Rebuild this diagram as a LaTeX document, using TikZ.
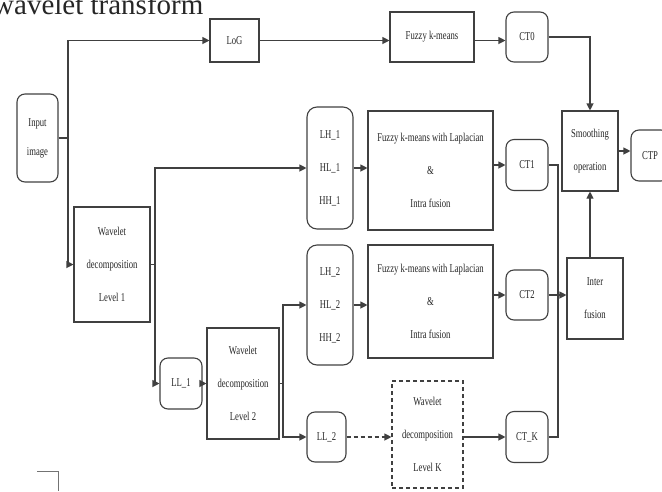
\documentclass[tikz,border=0pt]{standalone}
\usepackage{fontspec}
\setmainfont{Liberation Serif}[FakeStretch=0.72]
\newfontfamily\titlefont{Liberation Serif}
\usetikzlibrary{arrows.meta}
\newcommand{\lbl}{\fontsize{12}{33}\selectfont}
\newcommand{\lblb}{\fontsize{12}{29}\selectfont}
\begin{document}
\begin{tikzpicture}[x=1pt,y=-1pt,
  box/.style={draw=black!75, line width=1.1pt, inner sep=0pt, align=center, text=black!85, font=\lbl},
  rbox/.style={box, rounded corners=8pt},
  lnk/.style={draw=black!75, line width=1.1pt},
  arr/.style={lnk, -{Triangle[length=7pt,width=7pt]}},
  dsh/.style={dash pattern=on 4pt off 3pt}]
\useasboundingbox (0,0) rectangle (662,491);
% title (cut by the page top)
\node[anchor=base west, inner sep=0pt, text=black!85, font=\titlefont\fontsize{29}{30}\selectfont] (title) at (-7,14) {wavelet transform};
% nodes
\node[rbox, font=\lblb, minimum width=41pt, minimum height=88pt] (inp) at (37.5,138) {Input\\image};
\node[box, minimum width=49pt, minimum height=43pt] (log) at (234.5,40.5) {LoG};
\node[box, minimum width=84pt, minimum height=50pt] (fkm) at (432,37) {Fuzzy k-means};
\node[rbox, minimum width=42pt, minimum height=50pt] (ct0) at (527,37) {CT0};
\node[box, minimum width=56pt, minimum height=80pt] (smo) at (590,151) {Smoothing\\operation};
\node[rbox, minimum width=38pt, minimum height=51pt] (ctp) at (650,155.5) {CTP};
\node[rbox, rounded corners=10pt, minimum width=46pt, minimum height=122pt] (lh1) at (330,168) {LH\_1\\HL\_1\\HH\_1};
\node[box, minimum width=125pt, minimum height=119pt] (f1) at (430.5,170.5) {Fuzzy k-means with Laplacian\\\&\\Intra fusion};
\node[rbox, minimum width=42pt, minimum height=51pt] (ct1) at (527,165) {CT1};
\node[box, minimum width=76pt, minimum height=115pt] (wl1) at (112,264.5) {Wavelet\\decomposition\\Level 1};
\node[rbox, rounded corners=10pt, minimum width=46pt, minimum height=120pt] (lh2) at (330,305) {LH\_2\\HL\_2\\HH\_2};
\node[box, minimum width=125pt, minimum height=113pt] (f2) at (430.5,301.5) {Fuzzy k-means with Laplacian\\\&\\Intra fusion};
\node[rbox, minimum width=42pt, minimum height=50pt] (ct2) at (527,295) {CT2};
\node[box, minimum width=56pt, minimum height=81pt] (inter) at (595,298.5) {Inter\\fusion};
\node[rbox, minimum width=42pt, minimum height=51pt] (ll1) at (181,383.5) {LL\_1};
\node[box, minimum width=72pt, minimum height=111pt] (wl2) at (243,383.5) {Wavelet\\decomposition\\Level 2};
\node[rbox, minimum width=39pt, minimum height=50pt] (ll2) at (326.5,437) {LL\_2};
\node[box, dsh, minimum width=71pt, minimum height=107pt] (wlk) at (427.5,434.5) {Wavelet\\decomposition\\Level K};
\node[rbox, minimum width=42pt, minimum height=51pt] (ctk) at (527,437) {CT\_K};
% bus coordinates
\coordinate (b1) at (68,0);
\coordinate (b2) at (155,0);
\coordinate (b3) at (558,0);
\coordinate (b4) at (283,0);
% connectors
\draw[arr] (inp.east) -| (b1 |- log.west) -- (log.west);
\draw[arr] (inp.east) -| (b1 |- wl1.west) -- (wl1.west);
\draw[arr] (log.east) -- (log.east -| fkm.west);
\draw[arr] (log.east -| fkm.east) -- (log.east -| ct0.west);
\draw[arr] (ct0.east) -| (smo.north);
\draw[arr] (wl1.east) -| (b2 |- lh1.west) -- (lh1.west);
\draw[arr] (wl1.east) -| (b2 |- ll1.west) -- (ll1.west);
\draw[arr] (lh1.east) -- (lh1.east -| f1.west);
\draw[arr] (ct1.west -| f1.east) -- (ct1.west);
\draw[lnk] (ct1.east) -| (b3 |- ctk.east) -- (ctk.east);
\draw[arr] (ct2.east) -- (ct2.east -| inter.west);
\draw[arr] (smo.south |- inter.north) -- (smo.south);
\draw[arr] (smo.east) -- (smo.east -| ctp.west);
\draw[arr] (wl2.east) -| (b4 |- lh2.west) -- (lh2.west);
\draw[arr] (wl2.east) -| (b4 |- ll2.west) -- (ll2.west);
\draw[arr] (lh2.east) -- (lh2.east -| f2.west);
\draw[arr] (ct2.west -| f2.east) -- (ct2.west);
\draw[arr] (ll1.east) -- (ll1.east -| wl2.west);
\draw[arr, dsh] (ll2.east) -- (ll2.east -| wlk.west);
\draw[arr] (wlk.east |- ctk.west) -- (ctk.west);
% stray corner at bottom left
\draw[draw=black!55, line width=0.8pt] (37,471) -- (58,471) -- (58,491);
\end{tikzpicture}
\end{document}
